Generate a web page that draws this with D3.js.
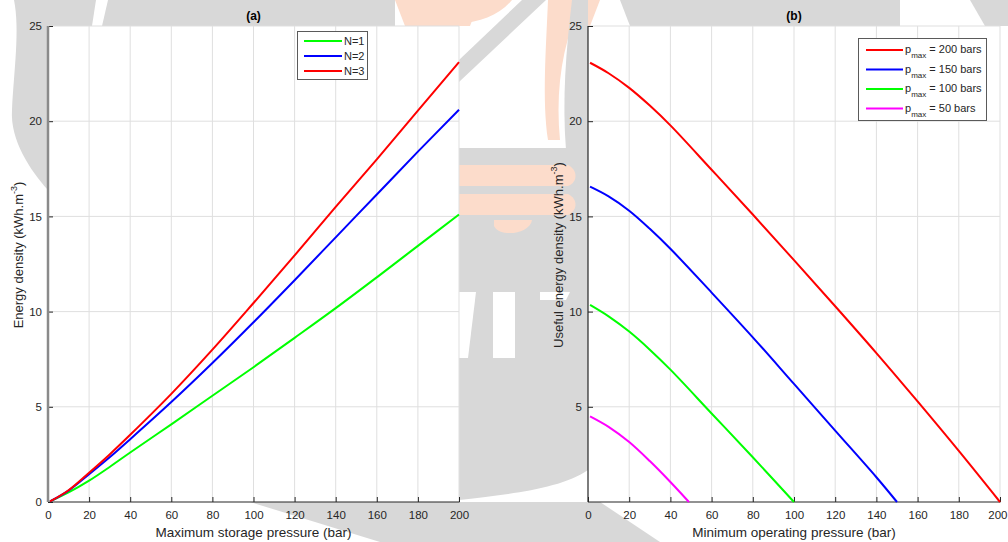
<!DOCTYPE html>
<html>
<head>
<meta charset="utf-8">
<script src="https://cdn.jsdelivr.net/npm/d3@7"></script>
<style>
  body { margin: 0; background: #fff; }
  svg { display: block; font-family: "Liberation Sans", Arial, sans-serif; }
</style>
</head>
<body>
<script>
// panel (a): energy density vs maximum storage pressure
var pressureMax = [1, 10, 20, 30, 40, 60, 80, 100, 120, 140, 160, 180, 200];
var densityN1 = [0.03, 0.5, 1.12, 1.84, 2.6, 4.08, 5.58, 7.08, 8.62, 10.18, 11.8, 13.45, 15.1];
var densityN2 = [0.03, 0.6, 1.46, 2.35, 3.3, 5.25, 7.3, 9.44, 11.65, 13.9, 16.15, 18.4, 20.6];
var densityN3 = [0.03, 0.62, 1.54, 2.5, 3.53, 5.68, 8.0, 10.45, 12.95, 15.5, 18.0, 20.55, 23.1];
var seriesA = ["N=1", "N=2", "N=3"];

// panel (b): useful energy density vs minimum operating pressure
var pMin200 = [1, 10, 20, 30, 40, 60, 80, 100, 120, 140, 160, 180, 200];
var useful200 = [23.07, 22.52, 21.75, 20.82, 19.78, 17.45, 15.1, 12.7, 10.28, 7.82, 5.28, 2.68, 0];
var pMin150 = [1, 10, 20, 30, 40, 60, 80, 100, 120, 140, 150];
var useful150 = [16.56, 16.05, 15.3, 14.35, 13.3, 11.0, 8.65, 6.2, 3.75, 1.3, 0];
var pMin100 = [1, 10, 20, 30, 40, 60, 80, 100];
var useful100 = [10.35, 9.75, 8.95, 8.0, 6.95, 4.65, 2.35, 0];
var pMin50 = [1, 10, 20, 30, 40, 49];
var useful50 = [4.5, 3.95, 3.15, 2.15, 1.05, 0];
var seriesB = ["200", "150", "100", "50"];

var xTicks = [0, 20, 40, 60, 80, 100, 120, 140, 160, 180, 200];
var yTicksA = [0, 5, 10, 15, 20, 25];
var yTicksB = [5, 10, 15, 20, 25];

var width = 1008, height = 542;
var svg = d3.select("body").append("svg")
    .attr("width", width)
    .attr("height", height);

// faded watermark behind the axes (rough)
var wm = svg.append("g");
var gray = "#d8d8d8", peach = "#fcdccb";
wm.append("path").attr("fill", gray)
    .attr("d", "M40,0 L395,0 L395,26 L40,26 Z");
wm.append("path").attr("fill", "#fff")
    .attr("d", "M96,0 L108,0 L102,26 L92,26 Z");
wm.append("path").attr("fill", peach)
    .attr("d", "M395,0 L480,0 L470,26 L405,26 Z");
wm.append("path").attr("fill", peach)
    .attr("d", "M459,0 L512,0 C500,15 480,22 459,24 Z");
wm.append("path").attr("fill", gray)
    .attr("d", "M522,0 L546,0 L459,82 L459,60 Z");
wm.append("path").attr("fill", peach)
    .attr("d", "M548,0 L600,0 L590,26 L572,26 C560,60 556,100 560,140 L548,140 C542,100 546,50 548,0 Z");
wm.append("path").attr("fill", gray)
    .attr("d", "M572,0 L588,0 L588,150 L566,150 C562,100 566,50 572,0 Z");
wm.append("path").attr("fill", gray)
    .attr("d", "M620,0 L900,0 L900,26 L630,26 Z");
wm.append("path").attr("fill", gray)
    .attr("d", "M970,0 L1008,0 L1008,26 L985,26 Z");
wm.append("path").attr("fill", gray)
    .attr("d", "M14,0 L48,0 L48,190 C30,170 10,140 12,110 C14,70 20,30 14,0 Z");
wm.append("path").attr("fill", gray)
    .attr("d", "M459,148 L588,148 L588,470 C560,490 500,495 459,500 Z");
wm.append("path").attr("fill", peach)
    .attr("d", "M459,165 L568,165 C578,170 578,182 568,186 L459,186 Z");
wm.append("path").attr("fill", peach)
    .attr("d", "M459,194 L568,194 C578,199 578,210 568,215 L459,215 Z");
wm.append("path").attr("fill", peach)
    .attr("d", "M494,220 L532,220 C530,234 500,238 494,226 Z");
wm.append("path").attr("fill", "#fff")
    .attr("d", "M459,292 L476,292 L468,358 L459,358 Z");
wm.append("path").attr("fill", "#fff")
    .attr("d", "M493,292 L515,292 L515,358 L493,358 Z");
wm.append("path").attr("fill", "#fff")
    .attr("d", "M540,292 L570,292 L566,300 L540,300 Z");
wm.append("path").attr("fill", gray)
    .attr("d", "M250,502 L600,502 L660,542 L380,542 Z");

var y = d3.scaleLinear().domain([0, 25]).range([502, 26]);
var line = function (xs) {
    return d3.line()
        .x(function (d) { return xs(d[0]); })
        .y(function (d) { return y(d[1]); })
        .curve(d3.curveCatmullRom.alpha(0.5));
};

function drawPanel(left, right, yTicks, title, xLabel, yLabel, leftColor, leftWidth) {
    var x = d3.scaleLinear().domain([0, 200]).range([left, right]);
    var g = svg.append("g");

    g.append("rect")
        .attr("x", left).attr("y", y(25))
        .attr("width", right - left).attr("height", y(0) - y(25))
        .attr("fill", "#fff");

    // grid
    g.selectAll(".gx").data(xTicks.slice(1)).enter().append("line")
        .attr("x1", function (d) { return x(d); }).attr("x2", function (d) { return x(d); })
        .attr("y1", y(0)).attr("y2", y(25))
        .attr("stroke", "#dfdfdf").attr("stroke-width", 1);
    g.selectAll(".gy").data(yTicks.filter(function (d) { return d > 0; })).enter().append("line")
        .attr("x1", left).attr("x2", right)
        .attr("y1", function (d) { return y(d); }).attr("y2", function (d) { return y(d); })
        .attr("stroke", "#dfdfdf").attr("stroke-width", 1);

    var xAxis = g.append("g")
        .attr("transform", "translate(0," + y(0) + ")")
        .call(d3.axisBottom(x).tickValues(xTicks).tickSize(-5).tickPadding(9).tickFormat(d3.format("d")));
    var yAxis = g.append("g")
        .attr("transform", "translate(" + left + ",0)")
        .call(d3.axisLeft(y).tickValues(yTicks).tickSize(-5).tickPadding(6).tickFormat(d3.format("d")));

    [xAxis, yAxis].forEach(function (a) {
        a.selectAll("text").attr("fill", "#262626").attr("font-size", "11.5px")
            .attr("font-family", "'Liberation Sans', Arial, sans-serif");
        a.selectAll(".tick line").attr("stroke", "#262626");
        a.select(".domain").remove();
    });
    g.append("line")
        .attr("x1", left).attr("x2", right + 0.5).attr("y1", y(0)).attr("y2", y(0))
        .attr("stroke", "#262626").attr("stroke-width", 1.2);
    g.append("line")
        .attr("x1", left).attr("x2", left).attr("y1", y(0)).attr("y2", y(25))
        .attr("stroke", leftColor).attr("stroke-width", leftWidth);

    g.append("text")
        .attr("x", (left + right) / 2).attr("y", 20)
        .attr("text-anchor", "middle")
        .attr("font-size", "12px").attr("font-weight", "bold").attr("fill", "#000")
        .text(title);

    g.append("text")
        .attr("x", (left + right) / 2).attr("y", 537)
        .attr("text-anchor", "middle")
        .attr("font-size", "13.5px").attr("fill", "#262626")
        .text(xLabel);

    var yl = g.append("text")
        .attr("transform", "translate(" + (left - 25) + ",255) rotate(-90)")
        .attr("text-anchor", "middle")
        .attr("font-size", "13px").attr("fill", "#262626");
    yl.append("tspan").text(yLabel + " (kWh.m");
    yl.append("tspan").attr("dy", -6).attr("font-size", "9px").text("-3");
    yl.append("tspan").attr("dy", 6).text(")");

    return { x: x, g: g, xAxis: xAxis };
}

// panel (a)
var pa = drawPanel(48, 459, yTicksA, "(a)", "Maximum storage pressure (bar)",
    "Energy density", "#8a8a8a", 2.5);
var dataA = [
    { name: seriesA[0], color: "#00ff00", xs: pressureMax, ys: densityN1 },
    { name: seriesA[1], color: "#0000ff", xs: pressureMax, ys: densityN2 },
    { name: seriesA[2], color: "#ff0000", xs: pressureMax, ys: densityN3 }
];
dataA.forEach(function (s) {
    pa.g.append("path")
        .datum(d3.zip(s.xs, s.ys))
        .attr("fill", "none").attr("stroke", s.color).attr("stroke-width", 2)
        .attr("d", line(pa.x));
});

// legend (a)
var la = svg.append("g");
la.append("rect").attr("x", 297.5).attr("y", 31.5).attr("width", 70).attr("height", 48)
    .attr("fill", "#fff").attr("stroke", "#5a5a5a").attr("stroke-width", 1);
dataA.forEach(function (s, i) {
    var ry = 41 + i * 15;
    la.append("line").attr("x1", 304).attr("x2", 342).attr("y1", ry).attr("y2", ry)
        .attr("stroke", s.color).attr("stroke-width", 2.2);
    la.append("text").attr("x", 344).attr("y", ry + 4)
        .attr("font-size", "11px").attr("fill", "#262626").text(s.name);
});

// panel (b)
var pb = drawPanel(588, 1000, yTicksB, "(b)", "Minimum operating pressure (bar)",
    "Useful energy density", "#262626", 1.2);
// keep the last tick label inside the window
pb.xAxis.selectAll(".tick text").filter(function (d) { return d === 200; })
    .attr("text-anchor", "end").attr("dx", "7px");
var dataB = [
    { name: seriesB[0], color: "#ff0000", xs: pMin200, ys: useful200 },
    { name: seriesB[1], color: "#0000ff", xs: pMin150, ys: useful150 },
    { name: seriesB[2], color: "#00ff00", xs: pMin100, ys: useful100 },
    { name: seriesB[3], color: "#ff00ff", xs: pMin50, ys: useful50 }
];
dataB.forEach(function (s) {
    pb.g.append("path")
        .datum(d3.zip(s.xs, s.ys))
        .attr("fill", "none").attr("stroke", s.color).attr("stroke-width", 2)
        .attr("d", line(pb.x));
});

// legend (b)
var lb = svg.append("g");
lb.append("rect").attr("x", 858.5).attr("y", 38.5).attr("width", 128).attr("height", 82)
    .attr("fill", "#fff").attr("stroke", "#5a5a5a").attr("stroke-width", 1);
dataB.forEach(function (s, i) {
    var ry = 50 + i * 19.5;
    lb.append("line").attr("x1", 866).attr("x2", 903).attr("y1", ry).attr("y2", ry)
        .attr("stroke", s.color).attr("stroke-width", 2.2);
    var t = lb.append("text").attr("x", 905).attr("y", ry + 3)
        .attr("font-size", "11px").attr("fill", "#262626");
    t.append("tspan").text("p");
    t.append("tspan").attr("dy", 5).attr("font-size", "8px").text("max");
    t.append("tspan").attr("dy", -5).text(" = " + s.name + " bars");
});
</script>
</body>
</html>
